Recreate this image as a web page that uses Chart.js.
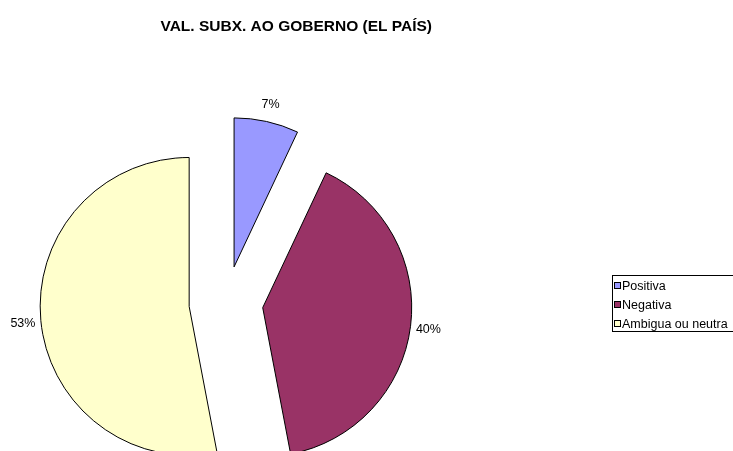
<!DOCTYPE html>
<html>
<head>
<meta charset="utf-8">
<script src="https://cdn.jsdelivr.net/npm/chart.js@4.4.1/dist/chart.umd.min.js"></script>
<style>
  html, body { margin: 0; padding: 0; background: #fff; overflow: hidden; }
  canvas { display: block; }
</style>
</head>
<body>
<canvas id="valoracion" width="733" height="451"></canvas>
<script>
// datos da gráfica
const categorias = ['Positiva', 'Negativa', 'Ambigua ou neutra'];
const porcentaxes = [7, 40, 53];
const cores = ['#9999FF', '#993366', '#FFFFCC'];
const titulo = 'VAL. SUBX. AO GOBERNO (EL PAÍS)';

const fonte = '"Liberation Sans", Arial, sans-serif';
const separacion = 37; // distancia de cada porción ao centro
const raio = 149;

const total = porcentaxes.reduce((a, b) => a + b, 0);

// tarta "explotada": cada porción móvese igual, sen cambiar o raio
// (o offset de Chart.js tamén agranda as porcións)
class PieExplotado extends Chart.PieController {
  draw() {
    const ctx = this.chart.ctx;
    const area = this.chart.chartArea;
    this.getMeta().data.forEach((arc) => {
      const medio = (arc.startAngle + arc.endAngle) / 2;
      ctx.save();
      ctx.translate(Math.cos(medio) * separacion, Math.sin(medio) * separacion);
      arc.draw(ctx, area);
      ctx.restore();
    });
  }
}
PieExplotado.id = 'pieExplotado';
Chart.register(PieExplotado);

const etiquetas = {
  id: 'etiquetas',
  afterDatasetsDraw(chart) {
    const ctx = chart.ctx;
    const meta = chart.getDatasetMeta(0);
    ctx.save();
    ctx.font = '12.5px ' + fonte;
    ctx.fillStyle = '#000';
    ctx.textAlign = 'center';
    ctx.textBaseline = 'middle';
    meta.data.forEach((arc, i) => {
      const {x, y, startAngle, endAngle, outerRadius} =
        arc.getProps(['x', 'y', 'startAngle', 'endAngle', 'outerRadius'], true);
      const medio = (startAngle + endAngle) / 2;
      const r = separacion + outerRadius + 18;
      const texto = Math.round(porcentaxes[i] / total * 100) + '%';
      ctx.fillText(texto, x + Math.cos(medio) * r, y + Math.sin(medio) * r + 1);
    });
    ctx.restore();
  }
};

const lenda = {
  id: 'lenda',
  afterDraw(chart) {
    const ctx = chart.ctx;
    ctx.save();
    ctx.strokeStyle = '#000';
    ctx.lineWidth = 1;
    ctx.strokeRect(612.5, 275.5, 130, 56);
    ctx.font = '12.5px ' + fonte;
    ctx.textBaseline = 'middle';
    categorias.forEach((cat, i) => {
      const y = 286 + i * 19;
      ctx.fillStyle = cores[i];
      ctx.fillRect(614.5, y - 3.5, 6, 6);
      ctx.strokeRect(614.5, y - 3.5, 6, 6);
      ctx.fillStyle = '#000';
      ctx.fillText(cat, 622, y + 0.5);
    });
    ctx.restore();
  }
};

new Chart(document.getElementById('valoracion'), {
  type: 'pieExplotado',
  data: {
    labels: categorias,
    datasets: [{
      data: porcentaxes,
      backgroundColor: cores,
      borderColor: '#000',
      borderWidth: 1,
      borderJoinStyle: 'miter',
      radius: raio,
      hoverOffset: 0,
      clip: false
    }]
  },
  options: {
    responsive: false,
    animation: false,
    devicePixelRatio: 1,
    layout: {
      padding: { left: 20, right: 301, top: 0, bottom: 0 }
    },
    plugins: {
      legend: { display: false },
      title: {
        display: true,
        text: titulo,
        align: 'end',
        color: '#000',
        font: { family: fonte, size: 15.5, weight: 'bold', lineHeight: 1.2 },
        padding: { top: 17.2, bottom: 119.2 }
      },
      tooltip: { enabled: true }
    }
  },
  plugins: [etiquetas, lenda]
});
</script>
</body>
</html>
